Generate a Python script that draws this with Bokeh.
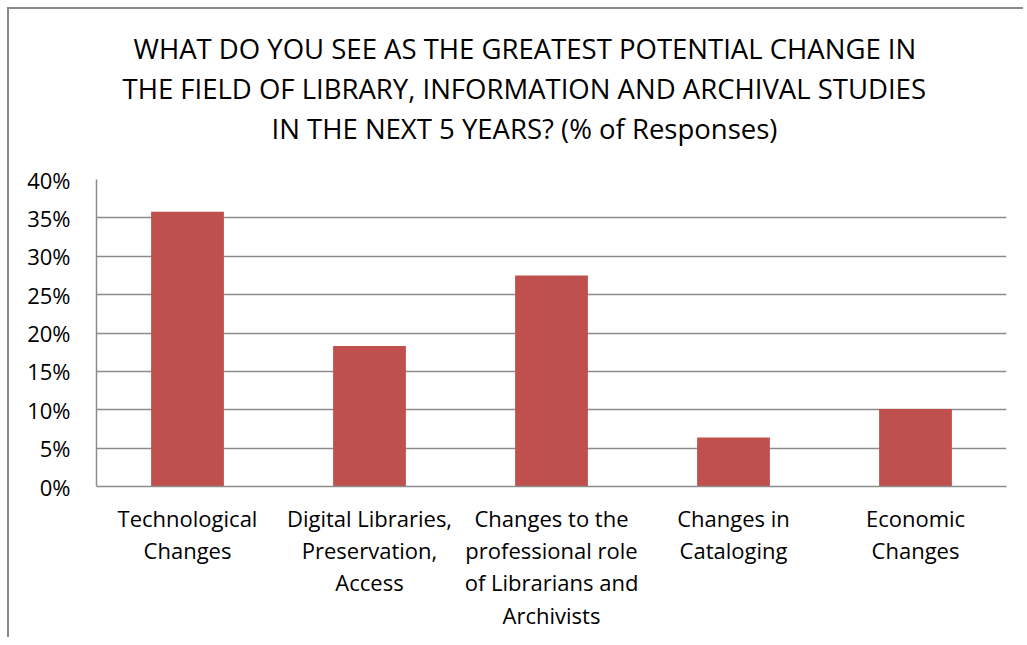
from bokeh.plotting import figure
from bokeh.models import Range1d, FixedTicker, NumeralTickFormatter, ColumnDataSource, Title
from bokeh.embed import file_html
from bokeh.resources import INLINE

categories = [
    "Technological\nChanges",
    "Digital Libraries,\nPreservation,\nAccess",
    "Changes to the\nprofessional role\nof Librarians and\nArchivists",
    "Changes in\nCataloging",
    "Economic\nChanges",
]
values = [0.358, 0.183, 0.275, 0.064, 0.101]
y_ticks = [0, 0.05, 0.10, 0.15, 0.20, 0.25, 0.30, 0.35, 0.40]
title_lines = [
    "WHAT DO YOU SEE AS THE GREATEST POTENTIAL CHANGE IN",
    "THE FIELD OF LIBRARY, INFORMATION AND ARCHIVAL STUDIES",
    "IN THE NEXT 5 YEARS? (% of Responses)",
]
# left offset (px from plot-area left) of each title line, so lines are centred on the chart
title_offsets = [37, 26, 175]

FONT = "Open Sans"
GRID = "#8c8c8c"

src = ColumnDataSource(dict(cat=categories, val=values))

p = figure(x_range=categories, y_range=Range1d(0, 0.4), width=1016, height=630,
           output_backend="svg", toolbar_location=None, title_location=None,
           min_border_left=87, min_border_right=19, min_border_top=170, min_border_bottom=153)
p.x_range.range_padding = 0
p.margin = (7, 0, 0, 7)
p.styles = {"border-left": "2px solid #8a8a8a", "border-top": "2px solid #8a8a8a"}

p.vbar(x="cat", top="val", width=0.4, source=src, fill_color="#C0504D", line_color=None)

# blank spacer between the plot area and the title block
p.add_layout(Title(text=" ", standoff=16, text_font=FONT, text_font_size="10px"), "above")
# title lines stacked above the plot area: last line closest to the frame
for line, off in reversed(list(zip(title_lines, title_offsets))):
    p.add_layout(Title(text=line, align="left", offset=off, standoff=1,
                       text_font=FONT, text_font_size="27.5px", text_font_style="normal",
                       text_color="black"), "above")

p.outline_line_color = None
p.xgrid.grid_line_color = None
p.ygrid.grid_line_color = GRID
p.ygrid.grid_line_width = 1.5
p.yaxis.ticker = FixedTicker(ticks=y_ticks)
p.yaxis.formatter = NumeralTickFormatter(format="0%")

for ax in (p.xaxis[0], p.yaxis[0]):
    ax.axis_line_color = GRID
    ax.axis_line_width = 1.5
    ax.major_tick_line_color = None
    ax.minor_tick_line_color = None
    ax.major_tick_in = 0
    ax.major_tick_out = 0
    ax.major_label_text_font = FONT
    ax.major_label_text_font_size = "22px"
    ax.major_label_text_color = "black"

p.yaxis.major_label_standoff = 26
p.xaxis.major_label_standoff = 16
p.xaxis.major_label_text_line_height = 1.08

open("out.html", "w").write(file_html(p, INLINE))
